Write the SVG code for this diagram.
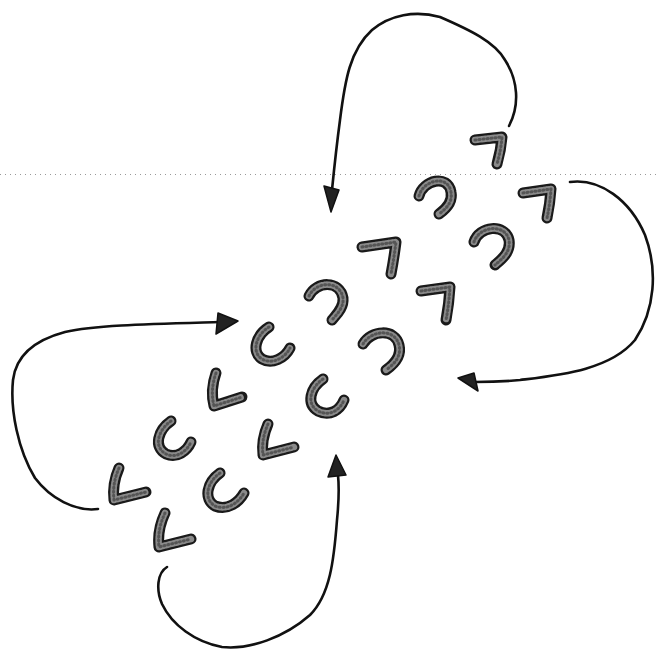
<svg xmlns="http://www.w3.org/2000/svg" width="658" height="649" viewBox="0 0 658 649">
<style>
.g{fill:none;stroke-linecap:round;stroke-linejoin:round}
.o{stroke:#1a1a1a;stroke-width:11}
.i{stroke:#8a8a8a;stroke-width:6.5;stroke-dasharray:2 1.5}
.d{stroke:#555;stroke-width:3;stroke-dasharray:1 3}
.c{fill:none;stroke:#111;stroke-width:2.6;stroke-linecap:round;stroke-linejoin:round}
.h{fill:#222;stroke:#111;stroke-width:1.5;stroke-linejoin:round}
</style>
<rect width="658" height="649" fill="#fff"/>
<line x1="0" y1="174.5" x2="658" y2="174.5" stroke="#999" stroke-width="1" stroke-dasharray="1 4"/>
<g id="connectors">
<path class="c" d="M509,126 C520,105 518,80 505,60 C495,42 470,30 440,17 C415,10 390,15 372,30 C350,50 345,80 340,120 C336,150 334,170 332,190"/>
<path class="h" d="M324,186 L339,190 L331,212 Z"/>
<path class="c" d="M570,182 C600,178 630,200 645,235 C658,270 655,310 635,340 C610,370 560,375 520,380 C500,382 485,382 475,382"/>
<path class="h" d="M474,373 L478,391 L458,378 Z"/>
<path class="c" d="M98,509 C75,512 50,498 35,478 C18,450 10,410 13,380 C16,355 35,340 65,332 C95,325 150,324 220,322"/>
<path class="h" d="M218,313 L238,321 L216,334 Z"/>
<path class="c" d="M167,567 C157,573 156,590 162,604 C172,625 195,642 222,647 C250,650 285,637 310,615 C330,595 334,560 337,520 C339,500 339,485 338,475"/>
<path class="h" d="M328,477 L336,455 L346,475 Z"/>
</g>
<g id="shape1"><path class="g o" d="M475,140 L502,137 Q501,150 497,164"/><path class="g i" d="M475,140 L502,137 Q501,150 497,164"/><path class="g d" d="M475,140 L502,137 Q501,150 497,164"/></g>
<g id="shape2"><path class="g o" d="M419,196 C423,180 448,174 451,192 C453,202 446,209 439,214"/><path class="g i" d="M419,196 C423,180 448,174 451,192 C453,202 446,209 439,214"/><path class="g d" d="M419,196 C423,180 448,174 451,192 C453,202 446,209 439,214"/></g>
<g id="shape3"><path class="g o" d="M523,193 L551,189 Q550,204 547,218"/><path class="g i" d="M523,193 L551,189 Q550,204 547,218"/><path class="g d" d="M523,193 L551,189 Q550,204 547,218"/></g>
<g id="shape4"><path class="g o" d="M362,247 L396,242 Q394,258 391,274"/><path class="g i" d="M362,247 L396,242 Q394,258 391,274"/><path class="g d" d="M362,247 L396,242 Q394,258 391,274"/></g>
<g id="shape5"><path class="g o" d="M474,242 C479,226 505,223 509,240 C511,252 502,259 495,265"/><path class="g i" d="M474,242 C479,226 505,223 509,240 C511,252 502,259 495,265"/><path class="g d" d="M474,242 C479,226 505,223 509,240 C511,252 502,259 495,265"/></g>
<g id="shape6"><path class="g o" d="M309,296 C316,281 340,280 343,298 C344,308 336,315 332,320"/><path class="g i" d="M309,296 C316,281 340,280 343,298 C344,308 336,315 332,320"/><path class="g d" d="M309,296 C316,281 340,280 343,298 C344,308 336,315 332,320"/></g>
<g id="shape7"><path class="g o" d="M421,291 L450,287 Q449,304 446,320"/><path class="g i" d="M421,291 L450,287 Q449,304 446,320"/><path class="g d" d="M421,291 L450,287 Q449,304 446,320"/></g>
<g id="shape8"><path class="g o" d="M363,344 C371,330 395,328 399,345 C402,357 393,365 386,370"/><path class="g i" d="M363,344 C371,330 395,328 399,345 C402,357 393,365 386,370"/><path class="g d" d="M363,344 C371,330 395,328 399,345 C402,357 393,365 386,370"/></g>
<g id="shape9"><path class="g o" d="M269,327 C256,335 251,352 262,359 C272,365 285,358 290,348"/><path class="g i" d="M269,327 C256,335 251,352 262,359 C272,365 285,358 290,348"/><path class="g d" d="M269,327 C256,335 251,352 262,359 C272,365 285,358 290,348"/></g>
<g id="shape10"><path class="g o" d="M216,373 Q210,390 214,406 L242,397"/><path class="g i" d="M216,373 Q210,390 214,406 L242,397"/><path class="g d" d="M216,373 Q210,390 214,406 L242,397"/></g>
<g id="shape11"><path class="g o" d="M323,379 C310,388 306,404 318,411 C330,417 340,410 344,400"/><path class="g i" d="M323,379 C310,388 306,404 318,411 C330,417 340,410 344,400"/><path class="g d" d="M323,379 C310,388 306,404 318,411 C330,417 340,410 344,400"/></g>
<g id="shape12"><path class="g o" d="M171,421 C158,430 153,447 166,454 C177,459 187,451 191,442"/><path class="g i" d="M171,421 C158,430 153,447 166,454 C177,459 187,451 191,442"/><path class="g d" d="M171,421 C158,430 153,447 166,454 C177,459 187,451 191,442"/></g>
<g id="shape13"><path class="g o" d="M268,424 Q261,440 263,455 L294,447"/><path class="g i" d="M268,424 Q261,440 263,455 L294,447"/><path class="g d" d="M268,424 Q261,440 263,455 L294,447"/></g>
<g id="shape14"><path class="g o" d="M119,468 Q112,484 114,500 L146,492"/><path class="g i" d="M119,468 Q112,484 114,500 L146,492"/><path class="g d" d="M119,468 Q112,484 114,500 L146,492"/></g>
<g id="shape15"><path class="g o" d="M220,473 C207,482 203,499 215,506 C228,511 239,502 244,493"/><path class="g i" d="M220,473 C207,482 203,499 215,506 C228,511 239,502 244,493"/><path class="g d" d="M220,473 C207,482 203,499 215,506 C228,511 239,502 244,493"/></g>
<g id="shape16"><path class="g o" d="M165,513 Q157,530 159,547 L191,539"/><path class="g i" d="M165,513 Q157,530 159,547 L191,539"/><path class="g d" d="M165,513 Q157,530 159,547 L191,539"/></g>
</svg>
